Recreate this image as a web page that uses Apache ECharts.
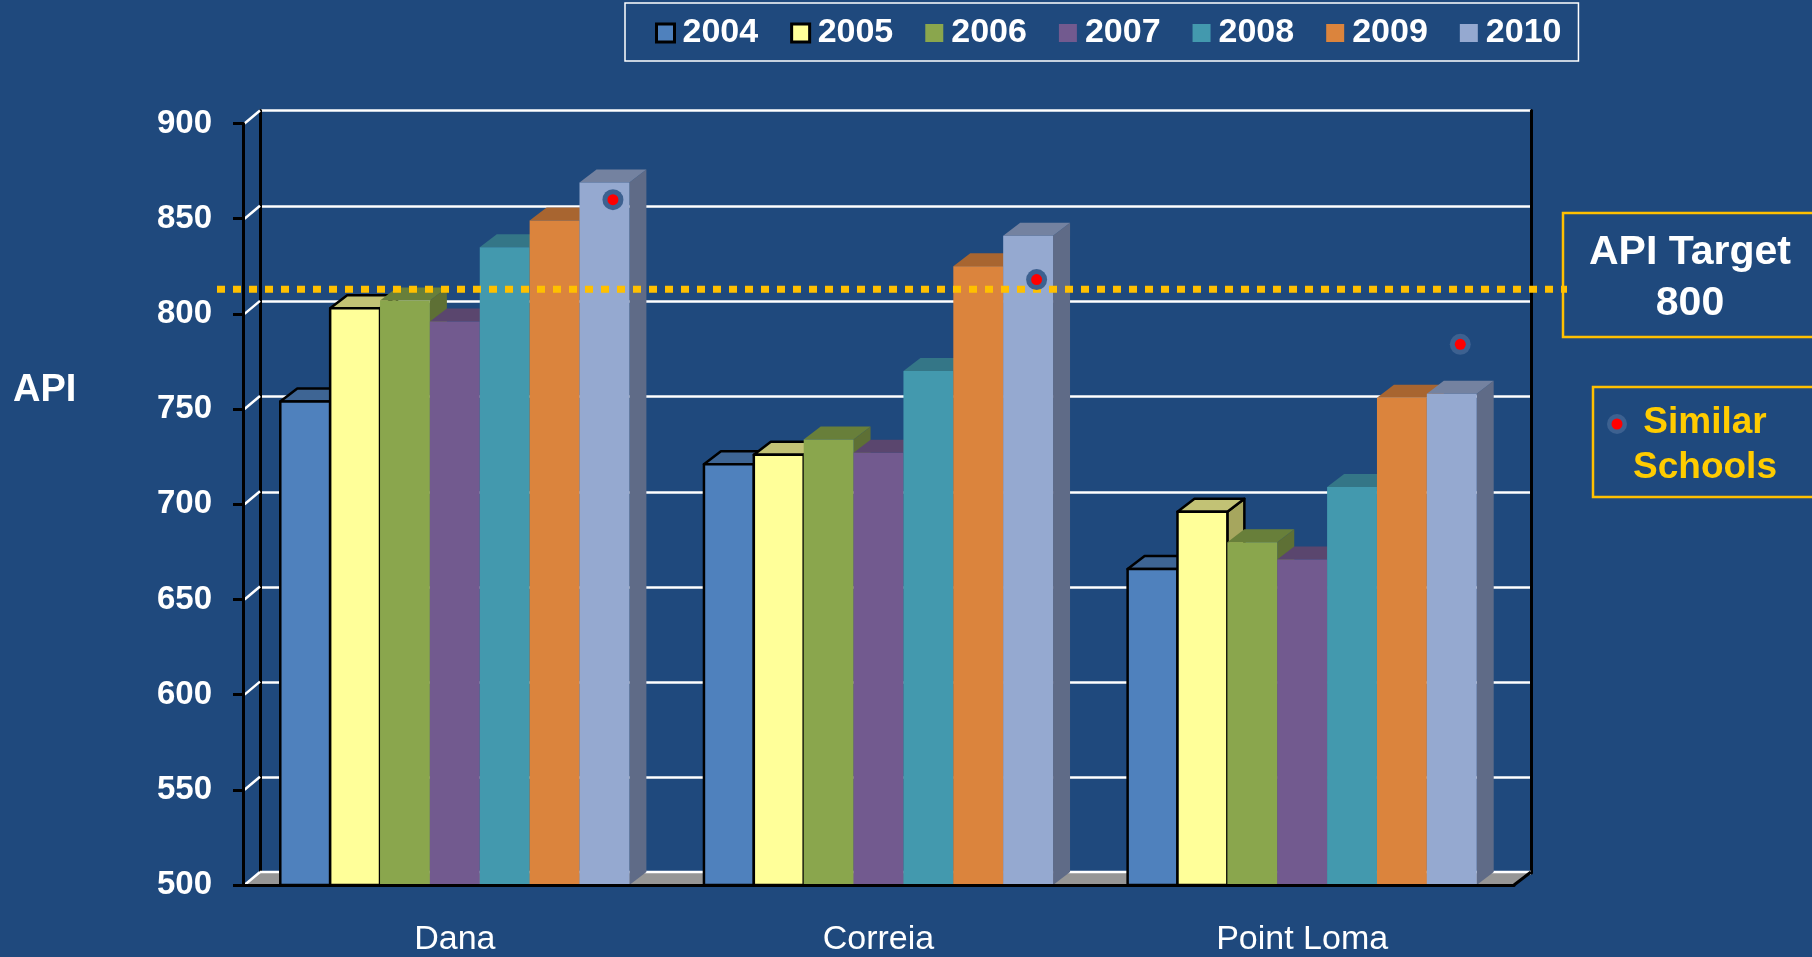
<!DOCTYPE html>
<html>
<head>
<meta charset="utf-8">
<title>API by school</title>
<script src="https://cdn.jsdelivr.net/npm/echarts@6/dist/echarts.min.js"></script>
<style>
  html, body { margin: 0; padding: 0; background: #1f497d; }
  #chart { width: 1812px; height: 957px; }
</style>
</head>
<body>
<div id="chart"></div>
<script>
// data
const schools = ['Dana', 'Correia', 'Point Loma']
const years = ['2004', '2005', '2006', '2007', '2008', '2009', '2010']
const api2004 = [754, 721, 666]
const api2005 = [803, 726, 696]
const api2006 = [807, 734, 680]
const api2007 = [796, 727, 671]
const api2008 = [835, 770, 709]
const api2009 = [849, 825, 756]
const api2010 = [869, 841, 758]
const similarSchools = [860, 818, 784]
const targetLine = 813
const yTicks = [500, 550, 600, 650, 700, 750, 800, 850, 900]

const apiByYear = [api2004, api2005, api2006, api2007, api2008, api2009, api2010]

// styling
const FONT = '"Liberation Sans", Arial, Helvetica, sans-serif'
const DX = 17   // 3d depth, right
const DY = 13   // 3d depth, up
const GROUP = 0.824
const barColors = [
  { front: '#4f81bd', top: '#3e6594', side: '#36597f' },
  { front: '#ffff99', top: '#c2c275', side: '#a6a65e' },
  { front: '#8aa64d', top: '#687f3a', side: '#5e7035' },
  { front: '#725a8f', top: '#5a466e', side: '#4f3d63' },
  { front: '#4399ae', top: '#347687', side: '#2e6877' },
  { front: '#db843d', top: '#a86530', side: '#975a2a' },
  { front: '#95a9d0', top: '#7482a0', side: '#5f6b87' }
]
const outlined = [true, true, false, false, false, false, false]

const yMin = yTicks[0]
const yMax = yTicks[yTicks.length - 1]

function renderBar (idx) {
  return function (params, api) {
    const cat = api.value(0)
    const c = api.coord([cat, api.value(1)])
    const b = api.coord([cat, yMin])
    const band = api.size([1, 0])[0]
    const bw = band * GROUP / years.length
    const x = c[0] - band * GROUP / 2 + idx * bw
    const top = c[1]
    const bot = b[1]
    const col = barColors[idx]
    const edge = outlined[idx]
      ? { stroke: '#000', lineWidth: 2.5, lineJoin: 'round' }
      : { stroke: null, lineWidth: 0 }
    return {
      type: 'group',
      children: [
        {
          type: 'polygon',
          shape: { points: [[x + bw, top], [x + bw + DX, top - DY], [x + bw + DX, bot - DY], [x + bw, bot]] },
          style: Object.assign({ fill: col.side }, edge)
        },
        {
          type: 'polygon',
          shape: { points: [[x, top], [x + DX, top - DY], [x + bw + DX, top - DY], [x + bw, top]] },
          style: Object.assign({ fill: col.top }, edge)
        },
        {
          type: 'rect',
          shape: { x: x, y: top, width: bw, height: bot - top },
          style: Object.assign({ fill: col.front }, edge)
        }
      ]
    }
  }
}

const barSeries = years.map(function (y, i) {
  return {
    name: y,
    type: 'custom',
    xAxisIndex: 0,
    yAxisIndex: 0,
    z: 3,
    itemStyle: { color: barColors[i].front },
    renderItem: renderBar(i),
    encode: { x: 0, y: 1 },
    data: schools.map(function (s, k) { return [k, apiByYear[i][k]] })
  }
})

const legendData = years.map(function (y, i) {
  return {
    name: y,
    itemStyle: {
      color: barColors[i].front,
      borderColor: outlined[i] ? '#000' : barColors[i].front,
      borderWidth: outlined[i] ? 3 : 0
    }
  }
})

const chart = echarts.init(document.getElementById('chart'))

const option = {
  backgroundColor: '#1f497d',
  animation: false,
  legend: {
    left: 625,
    top: 3,
    padding: [13, 17, 11, 30],
    itemGap: 32,
    itemWidth: 18,
    itemHeight: 18,
    icon: 'rect',
    borderColor: '#ffffff',
    borderWidth: 1.5,
    selectedMode: false,
    textStyle: {
      color: '#fff',
      fontSize: 34,
      fontWeight: 'bold',
      fontFamily: FONT,
      lineHeight: 30,
      padding: [0, 0, 0, 3]
    },
    data: legendData
  },
  grid: [
    // front plane
    { left: 243, top: 123.5, width: 1271, height: 762.5 },
    // back wall
    { left: 243 + DX, top: 123.5 - DY, width: 1271, height: 762.5 },
    // target line runs a bit past both walls
    { left: 217, top: 123.5, width: 1350, height: 762.5 }
  ],
  xAxis: [
    {
      type: 'category',
      gridIndex: 0,
      data: schools,
      z: 10,
      axisLine: { lineStyle: { color: '#000', width: 3 } },
      axisTick: { length: 11, lineStyle: { color: '#000', width: 2 } },
      axisLabel: { color: '#fff', fontSize: 34, fontFamily: FONT, margin: 38 },
      splitLine: { show: false }
    },
    { type: 'value', gridIndex: 1, min: 0, max: 1, show: false },
    { type: 'value', gridIndex: 2, min: 0, max: 1, show: false }
  ],
  yAxis: [
    {
      type: 'value',
      gridIndex: 0,
      min: yMin,
      max: yMax,
      interval: 50,
      z: 10,
      axisLine: { show: true, lineStyle: { color: '#000', width: 3 } },
      axisTick: { show: true, length: 10, lineStyle: { color: '#000', width: 3 } },
      axisLabel: { color: '#fff', fontSize: 33, fontWeight: 'bold', fontFamily: FONT, margin: 31 },
      splitLine: { show: false }
    },
    {
      type: 'value',
      gridIndex: 1,
      min: yMin,
      max: yMax,
      interval: 50,
      z: 0,
      axisLine: { show: true, lineStyle: { color: '#000', width: 3 } },
      axisTick: { show: false },
      axisLabel: { show: false },
      splitLine: { show: true, lineStyle: { color: '#ffffff', width: 2.5 } }
    },
    {
      type: 'value',
      gridIndex: 1,
      position: 'right',
      min: yMin,
      max: yMax,
      interval: 50,
      z: 0,
      axisLine: { show: true, lineStyle: { color: '#000', width: 3 } },
      axisTick: { show: false },
      axisLabel: { show: false },
      splitLine: { show: false }
    },
    { type: 'value', gridIndex: 2, min: yMin, max: yMax, show: false }
  ],
  series: [
    // floor
    {
      type: 'custom',
      xAxisIndex: 0,
      yAxisIndex: 0,
      z: 1,
      silent: true,
      renderItem: function (params, api) {
        const cs = params.coordSys
        const y0 = api.coord([0, yMin])[1]
        const x0 = cs.x
        const x1 = cs.x + cs.width
        return {
          type: 'group',
          children: [
            { type: 'polygon', shape: { points: [[x0, y0], [x0 + DX, y0 - DY], [x1 + DX, y0 - DY], [x1, y0]] }, style: { fill: '#969696' } },
            { type: 'line', shape: { x1: x0 + DX, y1: y0 - DY, x2: x1 + DX, y2: y0 - DY }, style: { stroke: '#fff', lineWidth: 2.5 } },
            { type: 'line', shape: { x1: x1, y1: y0, x2: x1 + DX, y2: y0 - DY }, style: { stroke: '#000', lineWidth: 3 } }
          ]
        }
      },
      data: [[0, yMin]]
    },
    // short links from the front ticks up to the back wall gridlines
    {
      type: 'custom',
      xAxisIndex: 0,
      yAxisIndex: 0,
      z: 1,
      silent: true,
      renderItem: function (params, api) {
        const x0 = params.coordSys.x
        const y = api.coord([0, api.value(1)])[1]
        return {
          type: 'line',
          shape: { x1: x0 + 1.5, y1: y, x2: x0 + DX, y2: y - DY },
          style: { stroke: '#fff', lineWidth: 2.5 }
        }
      },
      data: yTicks.map(function (v) { return [0, v] })
    }
  ].concat(barSeries).concat([
    // target line
    {
      type: 'line',
      xAxisIndex: 2,
      yAxisIndex: 3,
      z: 6,
      silent: true,
      symbol: 'none',
      lineStyle: { color: '#ffc000', width: 7, type: [8, 8], cap: 'butt' },
      data: [[0, targetLine], [1, targetLine]]
    },
    // similar schools dots
    {
      name: 'Similar Schools',
      type: 'custom',
      xAxisIndex: 0,
      yAxisIndex: 0,
      z: 7,
      silent: true,
      renderItem: function (params, api) {
        const cat = api.value(0)
        const c = api.coord([cat, api.value(1)])
        const band = api.size([1, 0])[0]
        const bw = band * GROUP / years.length
        const x = c[0] - band * GROUP / 2 + (years.length - 0.5) * bw + DX / 2
        return {
          type: 'group',
          children: [
            { type: 'circle', shape: { cx: x, cy: c[1], r: 10.5 }, style: { fill: '#3d6190' } },
            { type: 'circle', shape: { cx: x, cy: c[1], r: 5.5 }, style: { fill: '#ff0000' } }
          ]
        }
      },
      encode: { x: 0, y: 1 },
      data: schools.map(function (s, k) { return [k, similarSchools[k]] })
    }
  ]),
  graphic: [
    {
      type: 'text',
      left: 13,
      top: 372,
      style: { text: 'API', fill: '#fff', font: 'bold 38px ' + FONT }
    },
    {
      type: 'rect',
      shape: { x: 1563, y: 213, width: 260, height: 124 },
      style: { fill: 'none', stroke: '#ffc000', lineWidth: 2.5 }
    },
    {
      type: 'text',
      x: 1690,
      y: 253,
      style: { text: 'API Target', fill: '#fff', font: 'bold 41px ' + FONT, textAlign: 'center', textVerticalAlign: 'middle' }
    },
    {
      type: 'text',
      x: 1690,
      y: 304,
      style: { text: '800', fill: '#fff', font: 'bold 41px ' + FONT, textAlign: 'center', textVerticalAlign: 'middle' }
    },
    {
      type: 'rect',
      shape: { x: 1593, y: 387, width: 230, height: 110 },
      style: { fill: 'none', stroke: '#ffc000', lineWidth: 2.5 }
    },
    { type: 'circle', shape: { cx: 1617, cy: 424, r: 10 }, style: { fill: '#3d6190' } },
    { type: 'circle', shape: { cx: 1617, cy: 424, r: 5.5 }, style: { fill: '#ff0000' } },
    {
      type: 'text',
      x: 1705,
      y: 423,
      style: { text: 'Similar', fill: '#ffcc00', font: 'bold 37px ' + FONT, textAlign: 'center', textVerticalAlign: 'middle' }
    },
    {
      type: 'text',
      x: 1705,
      y: 468,
      style: { text: 'Schools', fill: '#ffcc00', font: 'bold 37px ' + FONT, textAlign: 'center', textVerticalAlign: 'middle' }
    }
  ]
}

chart.setOption(option)
</script>
</body>
</html>
